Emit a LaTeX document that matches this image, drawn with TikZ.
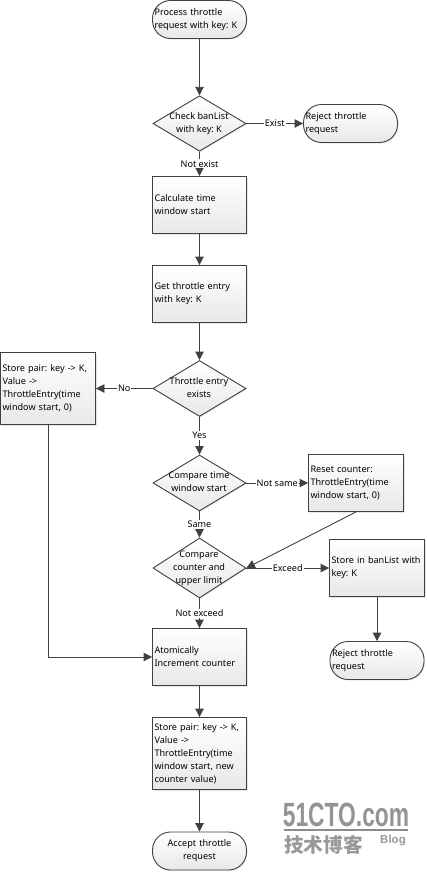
\documentclass[tikz,border=0pt]{standalone}
\usepackage{fontspec}
\setmainfont{Noto Sans}
\newfontfamily\cjkfont{Noto Sans CJK SC}
\newfontfamily\wmfont{Liberation Sans}
\usetikzlibrary{shapes.geometric,arrows.meta,shadows}
\definecolor{edgecol}{HTML}{404040}
\tikzset{
  every node/.style={font=\frenchspacing\fontsize{9.1}{13}\selectfont,text=black},
  boxshade/.style={draw=edgecol,line width=0.9pt,top color=white,bottom color=black!9,
    drop shadow={shadow xshift=1pt,shadow yshift=-1pt,opacity=.2}},
  procbox/.style={boxshade,rectangle,inner sep=0pt,minimum width=#1,text width=#1-4pt,align=left},
  termbox/.style={boxshade,rectangle,rounded corners=18pt,inner sep=0pt,minimum width=94pt,minimum height=38pt,text width=90pt,align=left},
  decbox/.style={boxshade,diamond,inner sep=0pt,aspect=1.68,minimum width=93pt,minimum height=#1},
  dectext/.style={align=center,inner sep=0pt},
  flow/.style={draw=edgecol,line width=0.9pt,-{Triangle[length=8.5pt,width=8.5pt]}},
  flowlabel/.style={fill=white,inner sep=1pt,pos=.5}
}
\begin{document}
\begin{tikzpicture}[x=1pt,y=-1pt]
\useasboundingbox (0,0) rectangle (427,873);
% nodes
\node[termbox] (start) at (199.5,19.5) {Process throttle\\request with key: K};
\node[decbox=55.5pt] (d1) at (199.5,123.5) {};
\node[dectext] (d1t) at (199,123.5) {Check banList\\with key: K};
\node[termbox] (rej1) at (350.5,123.5) {Reject throttle\\request};
\node[procbox=94pt,minimum height=57pt] (calc) at (199.5,205) {Calculate time\\window start};
\node[procbox=94pt,minimum height=57pt] (get) at (199.5,294) {Get throttle entry\\with key: K};
\node[decbox=56pt] (d2) at (199.5,388.5) {};
\node[dectext] (d2t) at (199,388) {Throttle entry\\exists};
\node[procbox=95pt,minimum height=72pt] (store1) at (48,388.5) {Store pair: key -> K,\\Value ->\\ThrottleEntry(time\\window start, 0)};
\node[decbox=56pt] (d3) at (199.5,483) {};
\node[dectext] (d3t) at (199,482) {Compare time\\window start};
\node[procbox=95pt,minimum height=57pt] (reset) at (356,483) {Reset counter:\\ThrottleEntry(time\\window start, 0)};
\node[decbox=60pt] (d4) at (199.5,568) {};
\node[dectext] (d4t) at (199,568) {Compare\\counter and\\upper limit};
\node[procbox=95pt,minimum height=57pt] (ban) at (377,568) {Store in banList with\\key: K};
\node[procbox=94pt,minimum height=57pt] (atom) at (199.5,657) {Atomically\\Increment counter};
\node[termbox] (rej2) at (377,660.5) {Reject throttle\\request};
\node[procbox=94pt,minimum height=72pt] (store2) at (199.5,753.5) {Store pair: key -> K,\\Value ->\\ThrottleEntry(time\\window start, new\\counter value)};
\node[termbox,text width=94pt,align=center] (acc) at (199.5,851) {Accept throttle\\request};
% connectors
\draw[flow] (start) -- (d1);
\draw[flow] (d1) -- node[flowlabel] (l1) {Exist} (rej1);
\draw[flow] (d1) -- node[flowlabel] (l2) {Not exist} (calc);
\draw[flow] (calc) -- (get);
\draw[flow] (get) -- (d2);
\draw[flow] (d2) -- node[flowlabel] (l3) {No} (store1);
\draw[flow] (d2) -- node[flowlabel] (l4) {Yes} (d3);
\draw[flow] (d3) -- node[flowlabel] (l5) {Not same} (reset);
\draw[flow] (d3) -- node[flowlabel] (l6) {Same} (d4);
\draw[flow] (reset.south) -- (d4.east);
\draw[flow] (d4) -- node[flowlabel] (l7) {Exceed} (ban);
\draw[flow] (d4) -- node[flowlabel] (l8) {Not exceed} (atom);
\draw[flow] (ban) -- (rej2);
\draw[flow] (store1.south) |- (atom.west);
\draw[flow] (atom) -- (store2);
\draw[flow] (store2) -- (acc);
% watermark
\node[inner sep=0pt,text=black!42] (wm1) at (346,814.5) {\wmfont\bfseries\fontsize{24}{24}\selectfont\scalebox{0.95}[1.4]{51CTO.com}};
\node[fill=black!45,minimum width=124pt,minimum height=2pt,inner sep=0pt] (wmline) at (346,830) {};
\node[inner sep=0pt,text=black!40] (wm2) at (323.5,845) {\cjkfont\bfseries\fontsize{19.7}{20}\selectfont 技术博客};
\node[inner sep=0pt,text=black!40] (wm3) at (393,841) {\wmfont\bfseries\fontsize{11.5}{12}\selectfont Blog};
\end{tikzpicture}
\end{document}
